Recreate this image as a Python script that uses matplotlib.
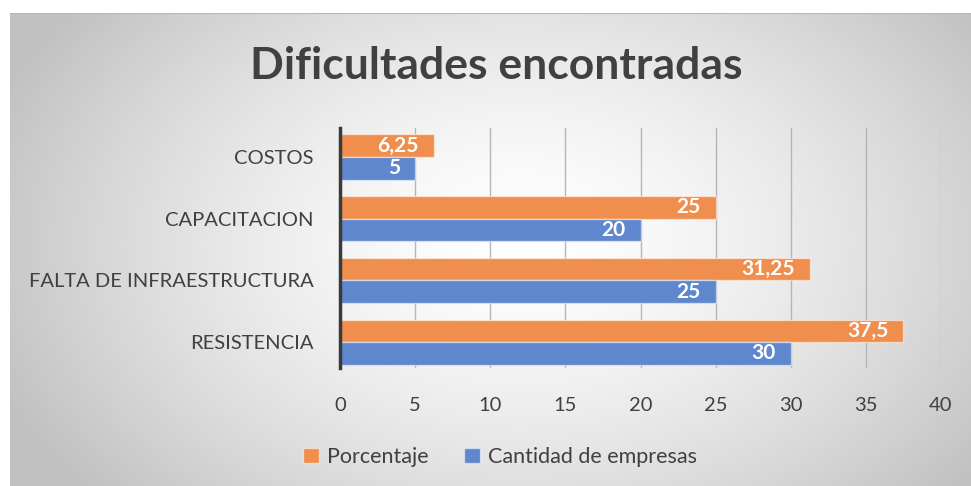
import numpy as np
import matplotlib.pyplot as plt

# data
categories = ['RESISTENCIA', 'FALTA DE INFRAESTRUCTURA', 'CAPACITACION', 'COSTOS']
porcentaje = [37.5, 31.25, 25, 6.25]
cantidad = [30, 25, 20, 5]
xticks = [0, 5, 10, 15, 20, 25, 30, 35, 40]

ORANGE = '#EF8E4D'
BLUE = '#5E87CD'
TEXT = '#404040'


def fmt(v):
    s = f'{v:g}'
    return s.replace('.', ',')


fig = plt.figure(figsize=(9.71, 4.86), dpi=100)
fig.patch.set_facecolor('white')

# radial gradient background box
bg = fig.add_axes([10 / 971, 0, 961 / 971, 473 / 486])
bg.set_axis_off()
h, w = 473, 961
yy, xx = np.mgrid[0:h, 0:w]
cx, cy = 510, 230
d = np.sqrt(((xx - cx) / 560.0) ** 2 + ((yy - cy) / 380.0) ** 2)
d = np.clip(d, 0, 1)
val = 1.0 - 0.24 * d ** 1.5
img = np.dstack([val, val, val])
bg.imshow(img, aspect='auto', extent=(0, w, h, 0), interpolation='bilinear')
bg.set_xlim(0, w)
bg.set_ylim(h, 0)
bg.plot([0, w], [0.5, 0.5], color='#b8b8b8', lw=1.5)

ax = fig.add_axes([340 / 971, 1 - 368 / 486, 601 / 971, 240 / 486])
ax.patch.set_alpha(0)

y = np.arange(len(categories))
bh = 0.366
ax.barh(y + bh / 2, porcentaje, height=bh, color=ORANGE,
        edgecolor=(1, 1, 1, 0.5), linewidth=1, zorder=3, label='Porcentaje')
ax.barh(y - bh / 2, cantidad, height=bh, color=BLUE,
        edgecolor=(1, 1, 1, 0.5), linewidth=1, zorder=3, label='Cantidad de empresas')

for i in range(len(categories)):
    ax.annotate(fmt(porcentaje[i]), (porcentaje[i], y[i] + bh / 2),
                xytext=(-11, 0), textcoords='offset points', ha='right', va='center',
                color='white', fontsize=15, fontweight='bold', family='Lato', zorder=4)
    ax.annotate(fmt(cantidad[i]), (cantidad[i], y[i] - bh / 2),
                xytext=(-11, 0), textcoords='offset points', ha='right', va='center',
                color='white', fontsize=15, fontweight='bold', family='Lato', zorder=4)

ax.set_xlim(0, 40)
ax.set_ylim(-0.42, 3.47)
ax.set_xticks(xticks)
ax.set_xticklabels([str(t) for t in xticks], fontsize=14.5, color=TEXT, family='Lato')
ax.set_yticks(y)
ax.set_yticklabels(categories, fontsize=14.5, color=TEXT, family='Lato')
ax.tick_params(axis='both', length=0)
ax.tick_params(axis='x', pad=21)
ax.tick_params(axis='y', pad=19)
ax.grid(axis='x', color='#b5b5b5', linewidth=1, zorder=0)
for s in ['top', 'right', 'bottom']:
    ax.spines[s].set_visible(False)
ax.spines['left'].set_color('#3a3a3a')
ax.spines['left'].set_linewidth(2.5)
ax.spines['left'].set_zorder(5)

fig.text(496 / 971, 1 - 66 / 486, 'Dificultades encontradas', ha='center', va='center',
         fontsize=32, fontweight='bold', color=TEXT, family='Lato')

fig.legend(loc='center', bbox_to_anchor=(500 / 971, 1 - 457 / 486), ncol=2,
           frameon=False, prop={'family': 'Lato', 'size': 15.5}, labelcolor=TEXT,
           handlelength=0.75, handleheight=0.75, handletextpad=0.4, columnspacing=1.6)

fig.savefig('out.png', dpi=100)
